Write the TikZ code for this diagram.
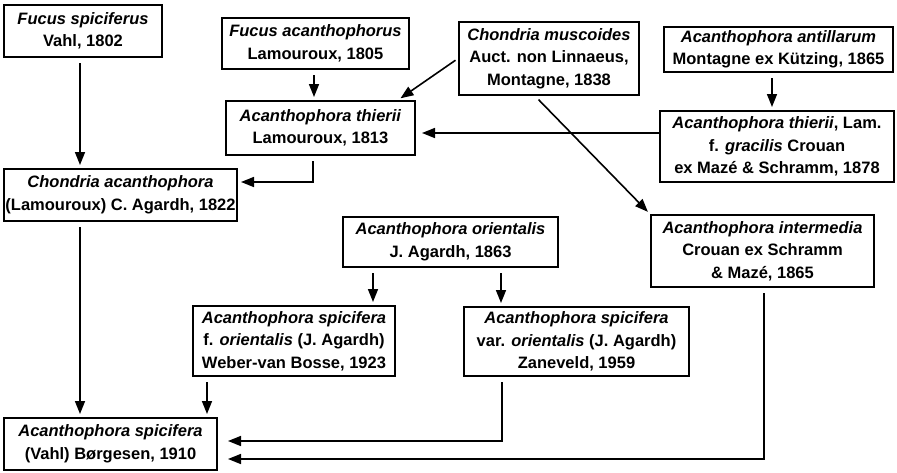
\documentclass[tikz,border=0pt]{standalone}
\usepackage{fontspec}
\setmainfont{Liberation Sans}
\usetikzlibrary{arrows.meta}
\tikzset{
  box/.style={draw, line width=2pt, inner sep=0pt, align=center,
    font=\fontsize{16.5}{22.5}\selectfont\bfseries},
  arr/.style={line width=1.6pt, -{Triangle[length=13pt,width=10pt]},
    shorten <=5pt, shorten >=3pt},
}
\begin{document}
\begin{tikzpicture}[x=1pt,y=1pt]
\useasboundingbox (0,0) rectangle (897,-472);
\node[box, minimum width=158pt, minimum height=52pt] (fs) at (83,-31) {\textit{Fucus spiciferus}\\Vahl, 1802};
\node[box, minimum width=187pt, minimum height=51pt] (fa) at (315.5,-43.5) {\textit{Fucus acanthophorus}\\Lamouroux, 1805};
\node[box, minimum width=189pt, minimum height=54pt] (at) at (320.5,-128) {\textit{Acanthophora thierii}\\Lamouroux, 1813};
\node[box, minimum width=233pt, minimum height=52pt] (ca) at (120.5,-195) {\textit{Chondria acanthophora}\\(Lamouroux) C. Agardh, 1822};
\node[box, minimum width=180pt, minimum height=73pt] (cm) at (549,-58.5) {\textit{Chondria muscoides}\\Auct. non Linnaeus,\\Montagne, 1838};
\node[box, minimum width=229pt, minimum height=45pt] (aa) at (778.5,-49.5) {\textit{Acanthophora antillarum}\\Montagne ex Kützing, 1865};
\node[box, minimum width=234pt, minimum height=71pt] (ag) at (777,-146.5) {\textit{Acanthophora thierii}, Lam.\\f. \textit{gracilis} Crouan\\ex Mazé \& Schramm, 1878};
\node[box, minimum width=223pt, minimum height=72pt] (ai) at (762.5,-251) {\textit{Acanthophora intermedia}\\Crouan ex Schramm\\\& Mazé, 1865};
\node[box, minimum width=215pt, minimum height=50pt] (ao) at (450.5,-242) {\textit{Acanthophora orientalis}\\J. Agardh, 1863};
\node[box, minimum width=202pt, minimum height=70pt] (sf) at (294,-341) {\textit{Acanthophora spicifera}\\f. \textit{orientalis} (J. Agardh)\\Weber-van Bosse, 1923};
\node[box, minimum width=225pt, minimum height=69pt] (sv) at (576.5,-341.5) {\textit{Acanthophora spicifera}\\var. \textit{orientalis} (J. Agardh)\\Zaneveld, 1959};
\node[box, minimum width=213pt, minimum height=52pt] (ab) at (110.5,-444) {\textit{Acanthophora spicifera}\\(Vahl) Børgesen, 1910};

\draw[arr] ([xshift=-3pt]fs.south) -- ([xshift=-3pt]fs.south |- ca.north);
\draw[arr] ([xshift=-1.5pt]fa.south) -- ([xshift=-1.5pt]fa.south |- at.north);
\draw[arr, shorten <=3pt] (cm.west) -- ([xshift=-18pt]at.north east);
\draw[arr, shorten <=0pt, shorten >=6pt] ([yshift=13.5pt]ag.west) -- ([yshift=-5pt]at.east);
\draw[arr] ([xshift=-6.5pt]aa.south) -- ([xshift=-5pt]ag.north);
\draw[arr] ([xshift=-14pt]cm.south) -- (ai.north west);
\draw[arr] ([xshift=-7.5pt]at.south) |- ([yshift=13pt]ca.east);
\draw[arr] ([xshift=-40.5pt]ca.south) -- ([xshift=-30.5pt]ab.north);
\draw[arr] ([xshift=-77.5pt]ao.south) -- ([xshift=79pt]sf.north);
\draw[arr] ([xshift=50.5pt]ao.south) -- ([xshift=-75.5pt]sv.north);
\draw[arr] ([xshift=-87pt]sf.south) -- ([xshift=96.5pt]ab.north);
\draw[arr, shorten >=10pt] ([xshift=-74.5pt]sv.south) |- ([yshift=3pt]ab.east);
\draw[arr, shorten >=10pt] ([xshift=1.5pt]ai.south) |- ([yshift=-15pt]ab.east);
\end{tikzpicture}
\end{document}
